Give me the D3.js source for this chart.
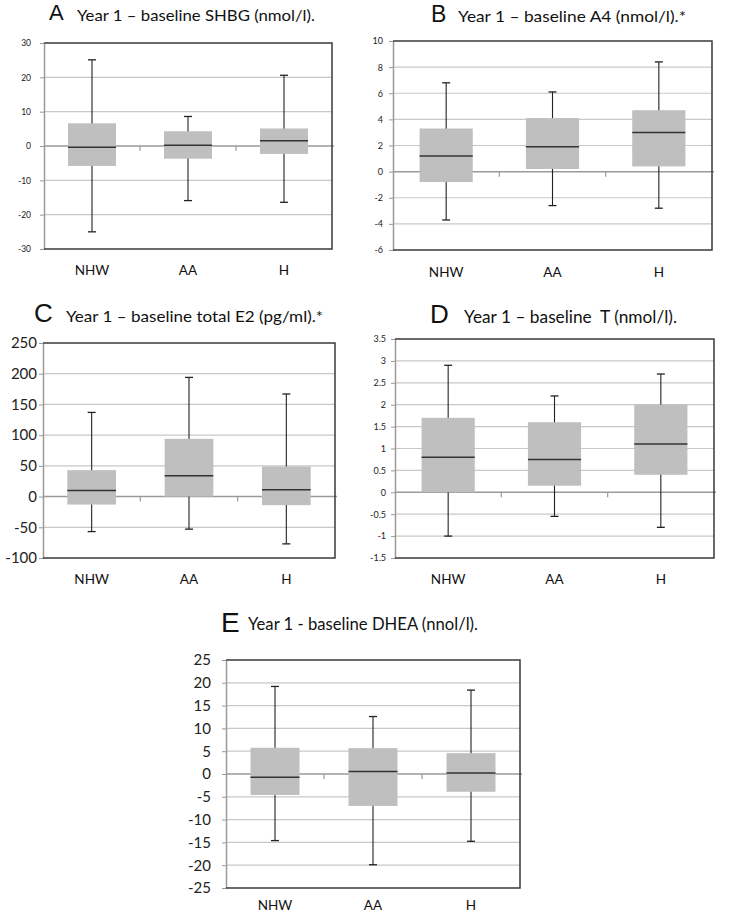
<!DOCTYPE html>
<html><head><meta charset="utf-8">
<script src="https://cdn.jsdelivr.net/npm/d3@7"></script>
<style>body{margin:0;background:#fff} svg{display:block}</style>
</head><body><svg id="c" width="742" height="913"></svg>
<script>
const categories = ["NHW", "AA", "H"];
// each entry: [lower whisker, Q1, median, Q3, upper whisker]
const shbgStats = [[-25, -5.8, -0.4, 6.6, 25.1], [-15.9, -3.7, 0.2, 4.3, 8.6], [-16.4, -2.3, 1.5, 5.1, 20.6]];
const a4Stats = [[-3.7, -0.8, 1.2, 3.3, 6.8], [-2.6, 0.2, 1.9, 4.1, 6.1], [-2.8, 0.4, 3.0, 4.7, 8.4]];
const e2Stats = [[-57, -13, 10, 43, 137], [-53, 0, 34, 94, 194], [-77, -14, 11, 49, 167]];
const tStats = [[-1.0, 0, 0.8, 1.7, 2.9], [-0.55, 0.15, 0.75, 1.6, 2.2], [-0.8, 0.4, 1.1, 2.0, 2.7]];
const dheaStats = [[-14.6, -4.6, -0.7, 5.75, 19.2], [-19.9, -7, 0.55, 5.67, 12.6], [-14.75, -3.9, 0.2, 4.57, 18.4]];
const shbgTicks = [-30, -20, -10, 0, 10, 20, 30];
const a4Ticks = [-6, -4, -2, 0, 2, 4, 6, 8, 10];
const e2Ticks = [-100, -50, 0, 50, 100, 150, 200, 250];
const tTicks = [-1.5, -1, -0.5, 0, 0.5, 1, 1.5, 2, 2.5, 3, 3.5];
const dheaTicks = [-25, -20, -15, -10, -5, 0, 5, 10, 15, 20, 25];
const panelLetters = ["A", "B", "C", "D", "E"];
const panelTitles = [
  "Year 1 – baseline SHBG (nmol/l).",
  "Year 1 – baseline A4 (nmol/l).*",
  "Year 1 – baseline total E2 (pg/ml).*",
  "Year 1 – baseline  T (nmol/l).",
  "Year 1 - baseline DHEA (nnol/l)."
];

const svg = d3.select("#c");
const FONT = "Lato, 'Open Sans', sans-serif";

const panels = [
  {stats: shbgStats, ticks: shbgTicks, x0: 44, x1: 332, y0: 43, y1: 249, tickFont: 8.5, pad: 9,
   letterX: 49, letterY: 20, letterSize: 22, titleX: 77, titleY: 21, titleSize: 16, titleW: 238, catY: 275},
  {stats: a4Stats, ticks: a4Ticks, x0: 393, x1: 712, y0: 41, y1: 250, tickFont: 9, pad: 6,
   letterX: 431, letterY: 22, letterSize: 23, titleX: 458, titleY: 22, titleSize: 16, titleW: 228, catY: 277},
  {stats: e2Stats, ticks: e2Ticks, x0: 43, x1: 335, y0: 343, y1: 558, tickFont: 15, pad: 2,
   letterX: 34, letterY: 322, letterSize: 26, titleX: 66, titleY: 322, titleSize: 15, titleW: 257, catY: 584},
  {stats: tStats, ticks: tTicks, x0: 395, x1: 714, y0: 339, y1: 558, tickFont: 9, pad: 5,
   letterX: 430, letterY: 323, letterSize: 26, titleX: 464, titleY: 323, titleSize: 17, titleW: 213, catY: 584},
  {stats: dheaStats, ticks: dheaTicks, x0: 226, x1: 520, y0: 660, y1: 888, tickFont: 15, pad: 11,
   letterX: 221, letterY: 632, letterSize: 28, titleX: 248, titleY: 630, titleSize: 17, titleW: 230, catY: 910}
];

panels.forEach((p, i) => {
  const g = svg.append("g");
  const x = d3.scaleBand().domain(categories).range([p.x0, p.x1]).paddingInner(0).paddingOuter(0);
  const y = d3.scaleLinear().domain([p.ticks[0], p.ticks[p.ticks.length - 1]]).range([p.y1, p.y0]);
  const bw = x.bandwidth();
  const boxW = bw * 0.5;

  // title
  g.append("text").attr("x", p.letterX).attr("y", p.letterY)
    .attr("font-family", "'Liberation Sans', Arial, sans-serif").attr("font-size", p.letterSize)
    .attr("fill", "#111").text(panelLetters[i]);
  g.append("text").attr("x", p.titleX).attr("y", p.titleY)
    .attr("font-family", FONT).attr("font-size", p.titleSize).attr("fill", "#111")
    .attr("textLength", p.titleW).attr("lengthAdjust", "spacingAndGlyphs")
    .style("white-space", "pre").text(panelTitles[i]);

  // gridlines
  g.append("g").selectAll("line").data(p.ticks.slice(1, -1).filter(d => d !== 0)).join("line")
    .attr("x1", p.x0).attr("x2", p.x1).attr("y1", d => y(d)).attr("y2", d => y(d))
    .attr("stroke", "#c8c8c8").attr("stroke-width", 1.2);

  // y axis
  const ax = g.append("g").attr("transform", `translate(${p.x0},0)`)
    .call(d3.axisLeft(y).tickValues(p.ticks).tickSize(4).tickSizeOuter(0).tickPadding(p.pad).tickFormat(d => String(d)));
  ax.select(".domain").attr("stroke", "#9a9a9a").attr("stroke-width", 1.5);
  ax.selectAll(".tick line").attr("stroke", "#9a9a9a");
  ax.selectAll(".tick text").attr("font-size", p.tickFont).attr("font-family", FONT).attr("fill", "#222");

  // zero (category) axis
  const y0 = y(0);
  g.append("line").attr("x1", p.x0).attr("x2", p.x1 + 2).attr("y1", y0).attr("y2", y0)
    .attr("stroke", "#9a9a9a").attr("stroke-width", 1.5);
  g.append("g").selectAll("line").data(categories.slice(1)).join("line")
    .attr("x1", d => x(d)).attr("x2", d => x(d)).attr("y1", y0).attr("y2", y0 + 5)
    .attr("stroke", "#9a9a9a").attr("stroke-width", 1.2);

  // category labels
  g.append("g").selectAll("text").data(categories).join("text")
    .attr("x", d => x(d) + bw / 2).attr("y", p.catY).attr("text-anchor", "middle")
    .attr("font-family", FONT).attr("font-size", 13.5).attr("fill", "#111").text(d => d);

  // boxes
  const bx = g.append("g").selectAll("g").data(p.stats).join("g")
    .attr("transform", (d, k) => `translate(${x(categories[k]) + bw / 2},0)`);
  bx.append("line").attr("x1", 0).attr("x2", 0).attr("y1", d => y(d[0])).attr("y2", d => y(d[4]))
    .attr("stroke", "#222").attr("stroke-width", 1.1);
  bx.append("line").attr("x1", -4).attr("x2", 4).attr("y1", d => y(d[4])).attr("y2", d => y(d[4]))
    .attr("stroke", "#222").attr("stroke-width", 1.3);
  bx.append("line").attr("x1", -4).attr("x2", 4).attr("y1", d => y(d[0])).attr("y2", d => y(d[0]))
    .attr("stroke", "#222").attr("stroke-width", 1.3);
  bx.append("rect").attr("x", -boxW / 2).attr("width", boxW)
    .attr("y", d => y(d[3])).attr("height", d => y(d[1]) - y(d[3]))
    .attr("fill", "#bfbfbf");
  bx.append("line").attr("x1", -boxW / 2).attr("x2", boxW / 2).attr("y1", d => y(d[2])).attr("y2", d => y(d[2]))
    .attr("stroke", "#333").attr("stroke-width", 1.5);

  // plot border (top, right, bottom)
  g.append("path").attr("d", `M${p.x0},${p.y0}H${p.x1}V${p.y1}H${p.x0}`)
    .attr("fill", "none").attr("stroke", "#3a3a3a").attr("stroke-width", 1.5);
});
</script>
</body></html>
